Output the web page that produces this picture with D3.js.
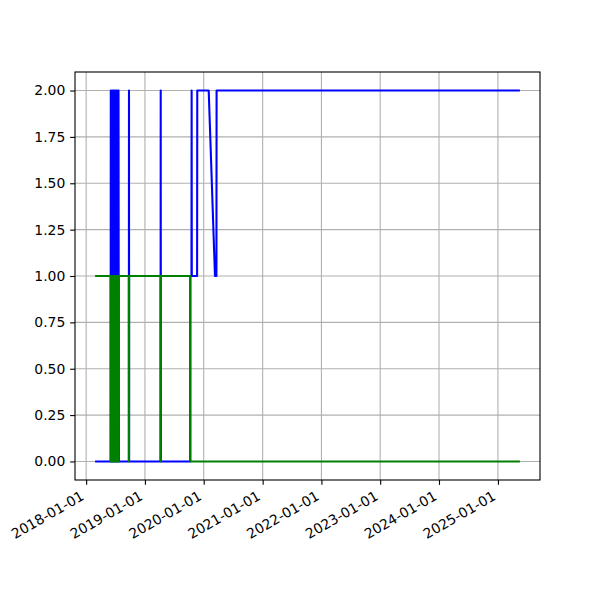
<!DOCTYPE html>
<html>
<head>
<meta charset="utf-8">
<script src="https://cdn.jsdelivr.net/npm/d3@7"></script>
<style>
  body { margin: 0; background: #fff; }
  svg { display: block; }
  text { font-family: "DejaVu Sans", sans-serif; }
</style>
</head>
<body>
<svg id="chart" width="600" height="600"></svg>
<script>
// ---- data ----
const dates = [
  "2018-03-04","2018-06-02","2018-06-03","2018-06-06","2018-06-09","2018-06-12",
  "2018-06-15","2018-06-18","2018-06-21","2018-06-24","2018-06-27","2018-06-30",
  "2018-07-03","2018-07-06","2018-07-09","2018-07-12","2018-07-15","2018-07-18",
  "2018-07-21","2018-07-23","2018-09-23","2018-09-24","2018-09-25",
  "2019-04-08","2019-04-09","2019-04-10","2019-10-09",
  "2019-10-10","2019-10-17","2019-10-18","2019-10-19","2019-11-21","2019-11-22",
  "2020-02-01","2020-03-11","2020-03-20","2020-03-21","2025-05-11"
];
const blueValues = [
  0,0,2,0,2,0,
  2,0,2,0,2,0,
  2,0,2,0,2,0,
  2,0,0,2,0,
  0,2,0,0,
  1,1,2,1,1,2,
  2,1,1,2,2
];
const greenValues = [
  1,1,0,1,0,1,
  0,1,0,1,0,1,
  0,1,0,1,0,1,
  0,1,1,0,1,
  1,0,1,1,
  0,0,0,0,0,0,
  0,0,0,0,0
];
const xTickLabels = ["2018-01-01","2019-01-01","2020-01-01","2021-01-01",
                     "2022-01-01","2023-01-01","2024-01-01","2025-01-01"];
const yTickValues = [0, 0.25, 0.5, 0.75, 1.0, 1.25, 1.5, 1.75, 2.0];

// ---- layout ----
const L = 75, R = 540, T = 72, B = 480;
const parse = d3.utcParse("%Y-%m-%d");
const tDates = dates.map(parse);

const svg = d3.select("#chart");

const t0 = d3.min(tDates), t1 = d3.max(tDates);
const pad = (t1 - t0) * 0.05;
const x = d3.scaleUtc().domain([new Date(+t0 - pad), new Date(+t1 + pad)]).range([L, R]);
const vmin = 0, vmax = 2, vpad = (vmax - vmin) * 0.05;
const y = d3.scaleLinear().domain([vmin - vpad, vmax + vpad]).range([B, T]);

const xTicks = xTickLabels.map(parse);

// grid
const grid = svg.append("g");
grid.selectAll("line.gx").data(xTicks).enter().append("line")
  .attr("x1", d => x(d)).attr("x2", d => x(d)).attr("y1", T).attr("y2", B)
  .attr("stroke", "#b0b0b0").attr("stroke-width", 1.1);
grid.selectAll("line.gy").data(yTickValues).enter().append("line")
  .attr("x1", L).attr("x2", R).attr("y1", d => y(d)).attr("y2", d => y(d))
  .attr("stroke", "#b0b0b0").attr("stroke-width", 1.1);

// lines
const mkLine = vals => d3.line()
  .x((d, i) => x(tDates[i]))
  .y((d, i) => y(vals[i]));

svg.append("path").datum(blueValues)
  .attr("d", mkLine(blueValues))
  .attr("fill", "none").attr("stroke", "#0000ff").attr("stroke-width", 2.08)
  .attr("stroke-linejoin", "round").attr("stroke-linecap", "square");
svg.append("path").datum(greenValues)
  .attr("d", mkLine(greenValues))
  .attr("fill", "none").attr("stroke", "#008000").attr("stroke-width", 2.08)
  .attr("stroke-linejoin", "round").attr("stroke-linecap", "square");

// axes
const tickLen = 4.86, tickPad = 4.86, fs = 13.9;

const yAxis = d3.axisLeft(y).tickValues(yTickValues).tickFormat(d3.format(".2f"))
  .tickSize(tickLen).tickPadding(tickPad);
const gy = svg.append("g").attr("transform", `translate(${L},0)`).call(yAxis);
gy.select(".domain").remove();
gy.selectAll(".tick line").attr("stroke", "#000").attr("stroke-width", 1.1);
gy.selectAll(".tick text").attr("font-size", fs).attr("fill", "#000")
  .attr("font-family", "DejaVu Sans");

const xAxis = d3.axisBottom(x).tickValues(xTicks)
  .tickFormat((d, i) => xTickLabels[i]).tickSize(tickLen).tickPadding(tickPad);
const gx = svg.append("g").attr("transform", `translate(0,${B})`).call(xAxis);
gx.select(".domain").remove();
gx.selectAll(".tick line").attr("stroke", "#000").attr("stroke-width", 1.1);
const ascent = fs * 0.76, descent = fs * 0.24;
gx.selectAll(".tick text")
  .attr("font-size", fs).attr("fill", "#000").attr("font-family", "DejaVu Sans")
  .attr("text-anchor", "end")
  .attr("dy", null)
  .attr("y", 0)
  .attr("x", 0)
  .attr("transform", `translate(${-0.5 * descent},${tickLen + tickPad + 0.866 * ascent}) rotate(-30)`);

// spines
svg.append("rect").attr("x", L).attr("y", T).attr("width", R - L).attr("height", B - T)
  .attr("fill", "none").attr("stroke", "#000").attr("stroke-width", 1.1);
</script>
</body>
</html>
